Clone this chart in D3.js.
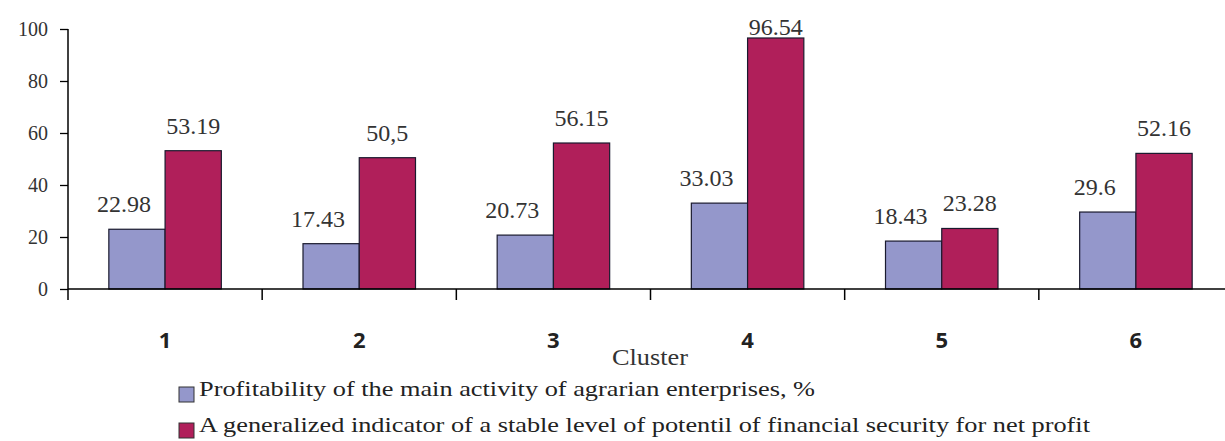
<!DOCTYPE html>
<html><head><meta charset="utf-8">
<script src="https://cdn.jsdelivr.net/npm/d3@7"></script>
<style>body{margin:0;background:#fff}svg{display:block}
.sf{font-family:"Liberation Serif","Times New Roman",Tinos,"DejaVu Serif","Noto Serif",Times,serif}
.ss{font-family:"Open Sans","Noto Sans","DejaVu Sans",sans-serif}</style>
</head><body><svg id="c" width="1225" height="441"></svg>
<script>
const categories = ["1","2","3","4","5","6"];
const profitability = [22.98, 17.43, 20.73, 33.03, 18.43, 29.6];
const generalized = [53.19, 50.5, 56.15, 96.54, 23.28, 52.16];
const valueLabelsA = ["22.98","17.43","20.73","33.03","18.43","29.6"];
const valueLabelsB = ["53.19","50,5","56.15","96.54","23.28","52.16"];
const yTicks = [0,20,40,60,80,100];
const seriesNames = ["Profitability of the main activity of agrarian enterprises, %",
  "A generalized indicator of a stable level of potentil of financial security for net profit"];
const xTitle = "Cluster";
const colors = ["#9497cb", "#b01f5a"];

(function(){
const svg = d3.select("#c");
const mLeft = 68, mRight = 1233, mTop = 29, mBottom = 289;
const x0 = d3.scaleBand().domain(categories).range([mLeft, mRight]).padding(0);
const x1 = d3.scaleBand().domain([0,1]).range([0, x0.bandwidth()]).paddingInner(0).paddingOuter(0.726);
const y = d3.scaleLinear().domain([0,100]).range([mBottom, mTop]);

// y axis
const yAxis = svg.append("g").attr("transform",`translate(${mLeft},0)`)
  .call(d3.axisLeft(y).tickValues(yTicks).tickSize(8).tickPadding(12));
yAxis.select(".domain").attr("stroke","#000").attr("stroke-width",1.5).attr("d",`M0,${y(100)}V${y(0)}`);
yAxis.selectAll(".tick line").attr("stroke","#000").attr("stroke-width",1.3);
yAxis.attr("font-family",null).attr("font-size",null);
yAxis.selectAll(".tick text").attr("class","sf").attr("font-size",20).attr("fill","#333");

// bars
const groups = svg.append("g").selectAll("g").data(categories).join("g")
  .attr("transform", d => `translate(${x0(d)},0)`);
const series = [profitability, generalized];
series.forEach((vals, s) => {
  groups.append("rect")
    .attr("x", x1(s)).attr("width", x1.bandwidth())
    .attr("y", (d,i) => y(vals[i])).attr("height", (d,i) => y(0) - y(vals[i]))
    .attr("fill", colors[s]).attr("stroke","#1a1a2e").attr("stroke-width",1.2);
});
// value labels
const labels = [valueLabelsA, valueLabelsB];
const shiftX = [-13, 0];
series.forEach((vals, s) => {
  groups.append("text").attr("class","sf")
    .attr("x", x1(s) + x1.bandwidth()/2 + shiftX[s])
    .attr("y", (d,i) => Math.max(y(vals[i]) - 17, 35))
    .attr("text-anchor","middle").attr("font-size",24)
    .attr("fill","#333").text((d,i) => labels[s][i]);
});

// x axis
const xAxis = svg.append("g").attr("transform",`translate(0,${mBottom})`);
xAxis.append("line").attr("x1",mLeft).attr("x2",1225).attr("y1",0).attr("y2",0)
  .attr("stroke","#000").attr("stroke-width",1.5);
xAxis.selectAll("line.t").data(categories).join("line").attr("class","t")
  .attr("x1", d => x0(d)).attr("x2", d => x0(d)).attr("y1",0).attr("y2",11)
  .attr("stroke","#000").attr("stroke-width",1.5);
xAxis.selectAll("text").data(categories).join("text").attr("class","ss")
  .attr("x", d => x0(d) + x0.bandwidth()/2).attr("y", 59)
  .attr("text-anchor","middle")
  .attr("font-weight","bold").attr("font-size",22).attr("fill","#222").text(d => d);

svg.append("text").attr("class","sf").attr("x",650).attr("y",365).attr("text-anchor","middle")
  .attr("font-size",24).attr("textLength",76).attr("lengthAdjust","spacingAndGlyphs")
  .attr("fill","#333").text(xTitle);

// legend
const legendWidths = [616, 891];
const leg = svg.append("g");
seriesNames.forEach((n, s) => {
  const base = 396 + s*36;
  leg.append("rect").attr("x",179).attr("y",base-9).attr("width",15).attr("height",15)
    .attr("fill",colors[s]).attr("stroke","#333").attr("stroke-width",1);
  leg.append("text").attr("class","sf").attr("x",199).attr("y",base)
    .attr("font-size",22).attr("fill","#222")
    .attr("textLength",legendWidths[s]).attr("lengthAdjust","spacingAndGlyphs").text(n);
});
})();
</script></body></html>
